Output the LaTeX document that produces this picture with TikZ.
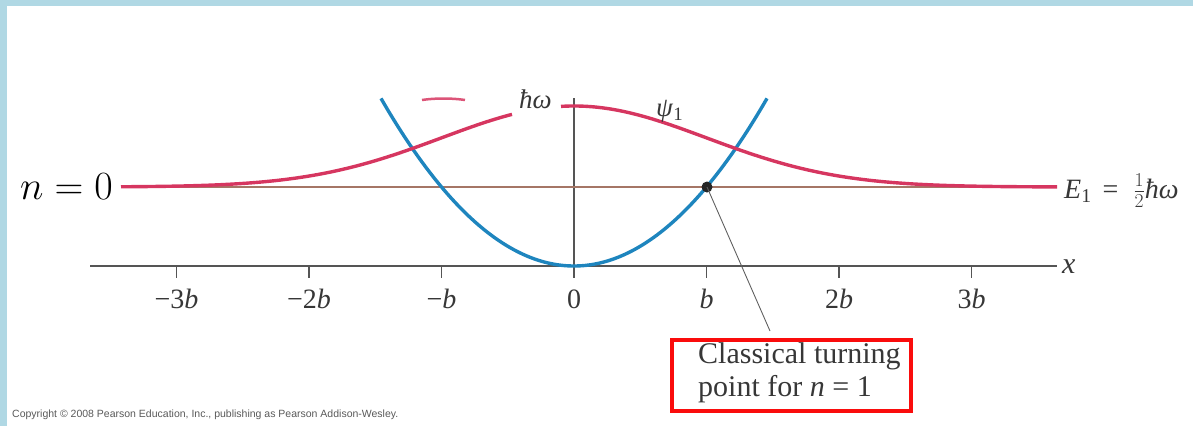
\RequirePackage{fix-cm}
\documentclass[tikz,border=0pt]{standalone}
\usepackage{fontspec}
\setmainfont{Liberation Serif}
\newfontfamily\copyfont{Liberation Sans}
\definecolor{bgblue}{RGB}{176,216,228}
\definecolor{psipink}{RGB}{214,54,96}
\definecolor{potblue}{RGB}{30,133,190}
\definecolor{elevel}{RGB}{165,118,102}
\definecolor{axisgray}{RGB}{85,85,85}
\definecolor{txtgray}{RGB}{55,55,55}
\definecolor{boxred}{RGB}{250,12,12}
\tikzset{
  psi/.style={draw=psipink, line width=3.4pt},
  pot/.style={draw=potblue, line width=3.4pt},
  level/.style={draw=elevel, line width=2pt},
  axisline/.style={draw=axisgray, line width=1.8pt},
  leader/.style={draw=txtgray!80, line width=0.9pt},
  lbl/.style={inner sep=0pt, text=txtgray, font=\fontsize{27}{30}\selectfont},
  ticklbl/.style={inner sep=0pt, text=txtgray, font=\fontsize{28}{32}\selectfont, anchor=base},
  boxframe/.style={draw=boxred, line width=4pt, minimum width=239pt, minimum height=71pt, inner sep=0pt},
  boxtxt/.style={inner sep=0pt, align=left, text=txtgray, font=\fontsize{30}{33}\selectfont},
}
\begin{document}
\begin{tikzpicture}[x=1pt,y=-1pt]
\useasboundingbox (0,0) rectangle (1193,426);
% page frame
\fill[bgblue] (0,0) rectangle (1193,6);
\fill[bgblue] (0,0) rectangle (7,426);
% axes
\draw[axisline] (90,266) -- (1057,266);
\draw[axisline] (574,98) -- (574,278);
\foreach \k/\lab in {-3/{\char"2212 3\textit{b}}, -2/{\char"2212 2\textit{b}}, -1/{\char"2212\textit{b}}, 0/{0}, 1/{\textit{b}}, 2/{2\textit{b}}, 3/{3\textit{b}}}{
  \draw[axisline] ({574+132.5*\k},266) -- ({574+132.5*\k},278);
  \node[ticklbl] (t\k) at ({574+132.5*\k},308) {\lab};
}
\node[inner sep=0pt, text=txtgray, font=\fontsize{30}{32}\selectfont, anchor=base west] (xlab) at (1062,273) {\textit{x}};
% energy level
\draw[level] (121,187) -- (1057,187);
% potential
\draw[pot] plot[domain=381:767, samples=120] (\x, {266-79*((\x-574)/132.5)*((\x-574)/132.5)});
% wavefunction
\draw[psi] plot[domain=121:512, samples=120] (\x, {187-81*exp(-0.5*((\x-574)/132.5)*((\x-574)/132.5))});
\draw[psi] plot[domain=561:1057, samples=120] (\x, {187-81*exp(-0.5*((\x-574)/132.5)*((\x-574)/132.5))});
\draw[draw=psipink, line width=2.5pt, opacity=0.85] (422,100) .. controls (435,98) and (452,98) .. (465,100);
% labels
\node[lbl, anchor=base west] (hw) at (519,108) {\textit{ħω}};
\node[lbl, anchor=base west] (psi1) at (656,116) {\textit{ψ}\textsubscript{1}};
\node[inner sep=0pt, text=txtgray, font=\fontsize{28}{30}\selectfont, anchor=base west] (elab) at (1064,198) {\textit{E}\textsubscript{1}\hspace{11pt}=\hspace{15pt}$\frac{1}{2}$\textit{ħω}};
\node[inner sep=0pt, font=\fontsize{40}{44}\selectfont, anchor=base east] (nlab) at (113,199) {$n = 0$};
% turning point
\node[circle, fill=black!85, inner sep=0pt, minimum size=11pt] (dot) at (707,187) {};
\coordinate (lead) at (770,331);
\draw[leader] (dot.center) -- (lead);
\node[boxframe] (box) at (791.5,375.5) {};
\node[boxtxt, anchor=west] (turn) at (698,373) {Classical turning\\point for \textit{n} = 1};
% copyright
\node[inner sep=0pt, anchor=base west, text=black!65, font=\copyfont\fontsize{10.5}{12}\selectfont] (copy) at (12,417) {Copyright © 2008 Pearson Education, Inc., publishing as Pearson Addison-Wesley.};
\end{tikzpicture}
\end{document}
